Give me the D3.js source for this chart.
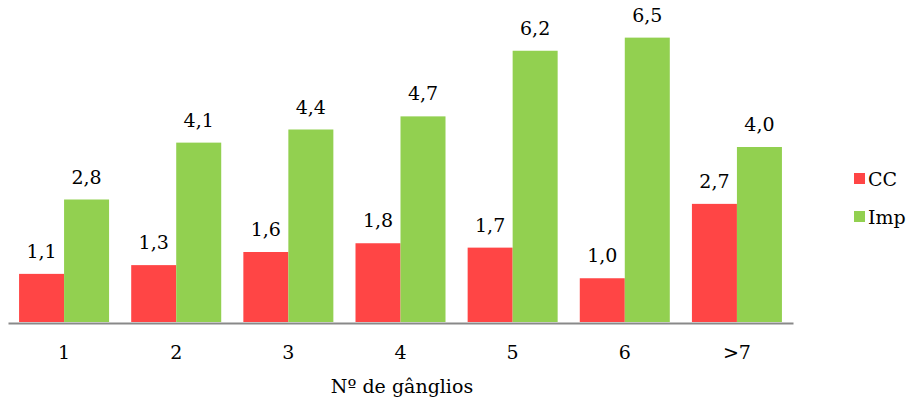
<!DOCTYPE html>
<html>
<head>
<meta charset="utf-8">
<script src="https://cdn.jsdelivr.net/npm/d3@7"></script>
<style>
  html, body { margin: 0; padding: 0; background: #fff; }
  svg { display: block; }
</style>
</head>
<body>
<svg id="chart" width="910" height="399"></svg>
<script>
// Number of lymph nodes per category, two series
const categories = ["1", "2", "3", "4", "5", "6", ">7"];
const seriesNames = ["CC", "Imp"];
const ccValues = [1.1, 1.3, 1.6, 1.8, 1.7, 1.0, 2.7];
const impValues = [2.8, 4.1, 4.4, 4.7, 6.2, 6.5, 4.0];
const seriesColors = ["#ff4545", "#92d050"];
const xTitle = "Nº de gânglios";

const svg = d3.select("#chart");
const fontSize = 19;
const fontFamily = "DejaVu Serif";

const x = d3.scaleBand()
  .domain(categories)
  .range([8, 793])
  .paddingInner(0.1974)
  .paddingOuter(0.0987);

const xSub = d3.scaleBand()
  .domain(seriesNames)
  .range([0, x.bandwidth()]);

const y = d3.scaleLinear()
  .domain([0, 7])
  .range([322, 322 - 7 * 43.75]);

const rows = categories.map((c, i) => ({
  cat: c,
  values: [
    { name: seriesNames[0], v: ccValues[i], color: seriesColors[0] },
    { name: seriesNames[1], v: impValues[i], color: seriesColors[1] }
  ]
}));

const fmt = v => d3.format(".1f")(v).replace(".", ",");

function label(sel) {
  sel.attr("font-family", fontFamily)
    .attr("font-size", fontSize)
    .attr("fill", "#000");
}

const groups = svg.append("g").selectAll("g")
  .data(rows)
  .join("g")
  .attr("transform", d => `translate(${x(d.cat)},0)`);

groups.selectAll("rect")
  .data(d => d.values)
  .join("rect")
  .attr("x", d => xSub(d.name))
  .attr("y", d => y(d.v))
  .attr("width", xSub.bandwidth())
  .attr("height", d => y(0) - y(d.v))
  .attr("fill", d => d.color);

groups.selectAll("text")
  .data(d => d.values)
  .join("text")
  .attr("x", d => xSub(d.name) + xSub.bandwidth() / 2)
  .attr("y", d => y(d.v) - 16)
  .attr("text-anchor", "middle")
  .call(label)
  .text(d => fmt(d.v));

// category axis
const xAxis = svg.append("g")
  .attr("transform", `translate(0,${y(0) + 1})`)
  .call(d3.axisBottom(x).tickSize(0).tickPadding(20));
xAxis.attr("font-family", fontFamily).attr("font-size", fontSize);
xAxis.select(".domain").attr("stroke", "#898989").attr("stroke-width", 2);
xAxis.selectAll(".tick text")
  .attr("dy", null)
  .attr("y", 36)
  .call(label);

svg.append("text")
  .attr("x", 402)
  .attr("y", 393)
  .attr("text-anchor", "middle")
  .call(label)
  .text(xTitle);

// legend
const legend = svg.append("g").selectAll("g")
  .data(seriesNames)
  .join("g")
  .attr("transform", (d, i) => `translate(854,${173 + i * 38})`);
legend.append("rect")
  .attr("width", 11)
  .attr("height", 11)
  .attr("fill", (d, i) => seriesColors[i]);
legend.append("text")
  .attr("x", 14)
  .attr("y", 13)
  .call(label)
  .text(d => d);
</script>
</body>
</html>
